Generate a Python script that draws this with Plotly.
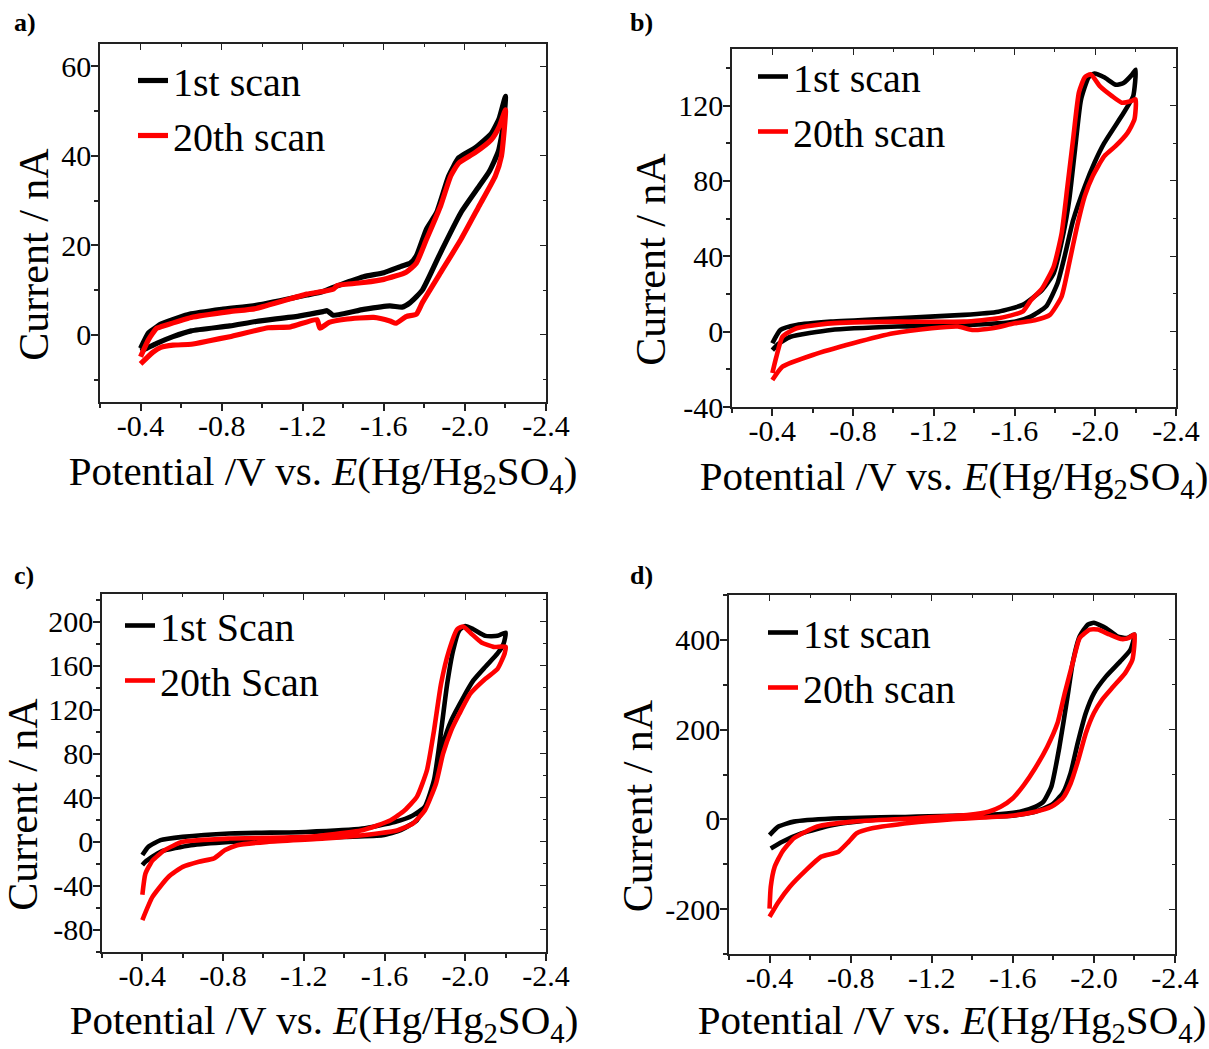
import plotly.graph_objects as go

FONT = "Liberation Serif"

# ---------------- data ----------------
# Panel a
A1_E = [-0.40, -0.44, -0.48, -0.50, -0.59, -0.64, -0.80, -0.97, -1.22, -1.30, -1.35, -1.50, -1.60, -1.69, -1.73, -1.76,
        -1.81, -1.86, -1.92, -1.97, -2.05, -2.13, -2.17, -2.20,
        -2.19, -2.165, -2.12, -2.07, -1.98, -1.88, -1.79, -1.73, -1.69, -1.63, -1.50, -1.35, -1.32, -1.30, -1.18,
        -0.97, -0.84, -0.65, -0.56, -0.48, -0.43, -0.40]
A1_I = [-3.0, 0.5, 1.8, 2.4, 3.9, 4.6, 5.7, 6.6, 8.9, 9.7, 10.6, 13.0, 13.9, 15.4, 16.0, 17.6,
        23.6, 27.3, 35.5, 39.6, 41.8, 45.0, 48.5, 53.3,
        47.0, 41.0, 36.5, 33.2, 27.3, 18.4, 10.0, 7.2, 6.2, 6.5, 5.7, 4.4, 5.4, 5.2, 4.2,
        3.0, 2.0, 0.9, -0.4, -1.9, -3.0, -3.6]
A20_E = [-0.40, -0.44, -0.48, -0.50, -0.65, -0.84, -0.97, -1.22, -1.35, -1.37, -1.50, -1.60, -1.71, -1.76, -1.81,
         -1.88, -1.93, -1.97, -2.05, -2.13, -2.17, -2.20,
         -2.18, -2.15, -2.07, -1.98, -1.88, -1.79, -1.76, -1.71, -1.66, -1.63, -1.55, -1.41, -1.33, -1.285, -1.27,
         -1.14, -1.03, -0.84, -0.74, -0.65, -0.56, -0.50, -0.46, -0.40]
A20_I = [-4.9, -1.0, 1.5, 1.8, 3.9, 5.2, 5.9, 9.1, 10.2, 11.0, 11.7, 12.4, 14.0, 16.0, 21.3,
         28.8, 35.5, 38.4, 40.7, 43.6, 46.6, 50.3,
         39.9, 35.5, 28.8, 21.3, 13.9, 7.2, 4.6, 4.1, 2.6, 3.1, 3.9, 3.5, 2.8, 1.5, 3.4,
         1.8, 1.6, -0.4, -1.3, -2.1, -2.3, -2.8, -3.9, -6.5]

# Panel b
B1_E = [-0.40, -0.44, -0.52, -0.69, -1.02, -1.35, -1.52, -1.64, -1.737, -1.794, -1.842, -1.871, -1.90, -1.929,
        -1.967, -1.996, -2.044, -2.102, -2.14, -2.179, -2.20,
        -2.188, -2.14, -2.044, -1.996, -1.948, -1.89, -1.852, -1.813, -1.756, -1.68, -1.60, -1.35, -1.02,
        -0.69, -0.49, -0.43, -0.40]
B1_I = [-6.2, 0.9, 3.5, 5.3, 7.1, 8.9, 10.6, 14.2, 22.2, 31.0, 52.0, 70.0, 97.0, 123.0,
        135.0, 137.0, 135.0, 131.0, 132.0, 136.0, 139.0,
        125.0, 116.0, 100.0, 89.6, 77.0, 59.0, 41.7, 25.7, 13.3, 8.0, 5.3, 3.5, 2.7,
        0.9, -2.7, -6.5, -9.8]
B20_E = [-0.40, -0.42, -0.45, -0.52, -0.69, -1.02, -1.35, -1.52, -1.64, -1.68, -1.737, -1.794, -1.833, -1.862,
         -1.89, -1.919, -1.948, -1.977, -2.025, -2.083, -2.131, -2.179, -2.20,
         -2.194, -2.16, -2.10, -2.044, -1.987, -1.948, -1.91, -1.871, -1.833, -1.775, -1.70, -1.60, -1.49,
         -1.39, -1.32, -1.19, -1.00, -0.80, -0.60, -0.45, -0.40]
B20_I = [-22.0, -13.3, -2.7, 1.8, 4.4, 5.3, 5.3, 7.1, 10.6, 16.5, 23.0, 34.6, 52.0, 77.0,
         102.0, 127.0, 135.0, 136.6, 130.0, 125.0, 121.5, 122.4, 123.3,
         112.6, 105.5, 98.4, 93.0, 82.5, 72.0, 56.0, 36.4, 18.6, 8.9, 6.0, 4.4, 1.8,
         0.9, 2.7, 1.8, -0.9, -6.2, -12.4, -18.6, -25.7]

# Panel c
C1_E = [-0.40, -0.43, -0.49, -0.60, -0.83, -1.21, -1.49, -1.65, -1.74, -1.80, -1.845, -1.87, -1.91, -1.94, -1.97,
        -2.00, -2.04, -2.10, -2.16, -2.20,
        -2.19, -2.16, -2.10, -2.04, -1.99, -1.93, -1.89, -1.855, -1.81, -1.76, -1.68, -1.59, -1.40, -1.21,
        -1.02, -0.83, -0.64, -0.49, -0.415, -0.40]
C1_I = [-12.0, -4.5, 1.5, 4.5, 7.6, 9.0, 12.0, 18.0, 24.0, 32.0, 56.0, 86.0, 143.0, 174.0, 192.0,
        196.0, 193.0, 187.0, 187.0, 190.0,
        180.0, 171.0, 159.0, 146.5, 131.0, 110.0, 89.0, 62.0, 35.0, 19.6, 10.6, 6.0, 4.5, 3.0,
        1.5, 0.0, -3.0, -9.0, -18.0, -21.0]
C20_E = [-0.40, -0.415, -0.45, -0.51, -0.60, -0.83, -1.21, -1.49, -1.63, -1.70, -1.76, -1.81, -1.845, -1.88, -1.92,
         -1.96, -1.99, -2.03, -2.08, -2.14, -2.20,
         -2.195, -2.16, -2.10, -2.025, -1.97, -1.93, -1.89, -1.855, -1.80, -1.74, -1.665, -1.49, -1.305, -1.02,
         -0.87, -0.81, -0.755, -0.68, -0.60, -0.53, -0.45, -0.40]
C20_I = [-48.0, -29.0, -17.0, -7.5, 0.0, 3.0, 4.5, 10.6, 19.6, 28.7, 40.8, 65.0, 101.0, 143.5, 174.0,
         193.0, 195.5, 189.0, 181.0, 177.0, 177.0,
         171.0, 157.0, 148.0, 134.5, 116.0, 101.0, 80.0, 53.0, 28.7, 16.6, 10.6, 6.0, 3.0, 0.0,
         -3.0, -7.5, -15.0, -18.0, -22.7, -31.7, -50.0, -71.0]

# Panel d
D1_E = [-0.40, -0.444, -0.52, -0.71, -1.10, -1.48, -1.635, -1.71, -1.75, -1.79, -1.83, -1.87, -1.895, -1.93, -1.97,
        -2.00, -2.06, -2.115, -2.163, -2.20,
        -2.18, -2.13, -2.06, -2.00, -1.96, -1.92, -1.885, -1.846, -1.79, -1.71, -1.58, -1.29, -0.905,
        -0.713, -0.56, -0.463, -0.406]
D1_I = [-35.0, -16.0, -5.0, 2.0, 6.0, 10.0, 17.0, 28.0, 39.0, 73.0, 162.0, 274.0, 348.0, 408.0, 434.0,
        438.0, 426.0, 408.0, 404.0, 412.0,
        378.0, 352.0, 318.6, 281.0, 237.0, 170.0, 103.0, 58.0, 32.0, 17.0, 7.4, 4.5, -1.5,
        -12.6, -31.0, -50.0, -65.0]
D20_E = [-0.40, -0.406, -0.425, -0.463, -0.52, -0.636, -0.81, -1.10, -1.385, -1.48, -1.54, -1.60, -1.655, -1.71,
         -1.77, -1.82, -1.856, -1.895, -1.93, -1.98, -2.02, -2.077, -2.135, -2.17, -2.20,
         -2.19, -2.154, -2.096, -2.04, -2.00, -1.96, -1.923, -1.885, -1.846, -1.79, -1.71, -1.58, -1.29,
         -1.10, -0.905, -0.83, -0.79, -0.74, -0.713, -0.655, -0.58, -0.50, -0.444, -0.40]
D20_I = [-199.0, -150.0, -106.0, -72.0, -42.0, -16.0, -5.0, 2.0, 10.0, 17.0, 28.0, 47.0, 77.0, 114.0,
         162.0, 214.0, 281.0, 348.0, 404.0, 423.0, 423.0, 412.0, 402.0, 404.0, 412.0,
         356.0, 326.0, 296.0, 266.5, 237.0, 192.0, 132.5, 80.0, 47.0, 28.0, 17.0, 7.4, 0.0,
         -7.4, -20.0, -31.0, -50.0, -72.0, -76.0, -83.0, -113.0, -150.0, -184.0, -217.0]

X_TICKS = [-0.4, -0.8, -1.2, -1.6, -2.0, -2.4]
X_TICK_TEXT = ["-0.4", "-0.8", "-1.2", "-1.6", "-2.0", "-2.4"]
X_RANGE = [-0.2, -2.4]

W, H = 1209, 1049

PANELS = [
    dict(label="a)", e1=A1_E, i1=A1_I, e20=A20_E, i20=A20_I, names=("1st scan", "20th scan"),
         yrange=[-15, 65], yticks=[0, 20, 40, 60], yminor=10, lw=5.2,
         box=(100, 546, 44, 402), leg=(133, 48), lab=(12, 22)),
    dict(label="b)", e1=B1_E, i1=B1_I, e20=B20_E, i20=B20_I, names=("1st scan", "20th scan"),
         yrange=[-40, 150], yticks=[-40, 0, 40, 80, 120], yminor=20, lw=4.6,
         box=(732, 1176, 49, 407), leg=(753, 44), lab=(628, 22)),
    dict(label="c)", e1=C1_E, i1=C1_I, e20=C20_E, i20=C20_I, names=("1st Scan", "20th Scan"),
         yrange=[-100, 225], yticks=[-80, -40, 0, 40, 80, 120, 160, 200], yminor=20, lw=4.6,
         box=(102, 546, 594, 952), leg=(120, 593), lab=(12, 575)),
    dict(label="d)", e1=D1_E, i1=D1_I, e20=D20_E, i20=D20_I, names=("1st scan", "20th scan"),
         yrange=[-300, 500], yticks=[-200, 0, 200, 400], yminor=100, lw=4.6,
         box=(729, 1175, 595, 954), leg=(763, 600), lab=(628, 575)),
]

fig = go.Figure()
layout = dict(
    autosize=True,
    margin=dict(l=0, r=0, t=0, b=0, autoexpand=False),
    paper_bgcolor="white", plot_bgcolor="white",
    font=dict(family=FONT, color="black"),
    showlegend=True,
    annotations=[],
)

X_TITLE = "Potential /V vs. <i>E</i>(Hg/Hg<sub>2</sub>SO<sub>4</sub>)"
# trailing non-breaking spaces push the rotated title toward the lower part of the axis, as in the reference
Y_TITLE = "Current / nA" + "&nbsp;" * 6
AX = "#222222"
TICK_FS = 30
TITLE_FS = 41
LEG_FS = 40

for k, p in enumerate(PANELS, start=1):
    sfx = "" if k == 1 else str(k)
    osfx = str(k + 4)
    legname = "legend" if k == 1 else f"legend{k}"
    x0, x1, y0, y1 = p["box"]
    for e, i, col, nm in [(p["e1"], p["i1"], "#000000", p["names"][0]),
                          (p["e20"], p["i20"], "#ff0000", p["names"][1])]:
        fig.add_trace(go.Scatter(
            x=e, y=i, mode="lines", name=nm,
            line=dict(color=col, width=p["lw"], shape="spline", smoothing=0.5),
            xaxis="x" + sfx, yaxis="y" + sfx, legend=legname,
        ))
    # empty trace carrying the mirrored (top / right) inward ticks
    fig.add_trace(go.Scatter(x=[], y=[], xaxis="x" + osfx, yaxis="y" + osfx,
                             showlegend=False, hoverinfo="skip"))
    dom_x = [x0 / W, x1 / W]
    dom_y = [1 - y1 / H, 1 - y0 / H]
    layout["xaxis" + sfx] = dict(
        domain=dom_x, anchor="y" + sfx, range=X_RANGE,
        tickmode="array", tickvals=X_TICKS, ticktext=X_TICK_TEXT,
        ticks="outside", ticklen=7, tickwidth=1.5, tickcolor=AX,
        minor=dict(tickmode="linear", tick0=-0.2, dtick=0.2, ticks="outside", ticklen=4, tickcolor=AX,
                   showgrid=False),
        showline=True, linecolor=AX, linewidth=1.6, mirror=True,
        showgrid=False, zeroline=False, ticklabelstandoff=-11,
        tickfont=dict(family=FONT, size=TICK_FS, color="black"),
        title=dict(text=X_TITLE, font=dict(family=FONT, size=TITLE_FS, color="black"), standoff=16),
    )
    layout["yaxis" + sfx] = dict(
        domain=dom_y, anchor="x" + sfx, range=p["yrange"],
        tickmode="array", tickvals=p["yticks"], ticktext=[str(v) for v in p["yticks"]],
        ticks="outside", ticklen=7, tickwidth=1.5, tickcolor=AX,
        minor=dict(tickmode="linear", tick0=0, dtick=p["yminor"], ticks="outside", ticklen=4, tickcolor=AX,
                   showgrid=False),
        showline=True, linecolor=AX, linewidth=1.6, mirror=True,
        showgrid=False, zeroline=False, ticklabelstandoff=-6,
        tickfont=dict(family=FONT, size=TICK_FS, color="black"),
        title=dict(text=Y_TITLE, font=dict(family=FONT, size=TITLE_FS + 1, color="black"), standoff=0),
    )
    layout["xaxis" + osfx] = dict(
        overlaying="x" + sfx, anchor="y" + sfx, side="top", range=X_RANGE,
        tickmode="array", tickvals=X_TICKS, showticklabels=False,
        ticks="inside", ticklen=6, tickwidth=1.3, tickcolor=AX,
        minor=dict(tickmode="linear", tick0=-0.2, dtick=0.2, ticks="inside", ticklen=3, tickcolor=AX,
                   showgrid=False),
        showline=False, showgrid=False, zeroline=False,
    )
    layout["yaxis" + osfx] = dict(
        overlaying="y" + sfx, anchor="x" + sfx, side="right", range=p["yrange"],
        tickmode="array", tickvals=p["yticks"], showticklabels=False,
        ticks="inside", ticklen=6, tickwidth=1.3, tickcolor=AX,
        minor=dict(tickmode="linear", tick0=0, dtick=p["yminor"], ticks="inside", ticklen=3, tickcolor=AX,
                   showgrid=False),
        showline=False, showgrid=False, zeroline=False,
    )
    layout[legname] = dict(
        x=p["leg"][0] / W, y=1 - p["leg"][1] / H, xanchor="left", yanchor="top",
        bgcolor="rgba(0,0,0,0)", borderwidth=0,
        font=dict(family=FONT, size=LEG_FS, color="black"),
        tracegroupgap=0,
    )
    layout["annotations"].append(dict(
        text="<b>" + p["label"] + "</b>", x=p["lab"][0] / W, y=1 - p["lab"][1] / H,
        xref="paper", yref="paper",
        xanchor="left", yanchor="middle", showarrow=False,
        font=dict(family=FONT, size=26, color="black"),
    ))

fig.update_layout(**layout)
fig.write_html(
    "out.html",
    default_width="100vw",
    default_height="100vh",
    post_script="document.body.style.margin='0';document.body.style.overflow='hidden';",
)
